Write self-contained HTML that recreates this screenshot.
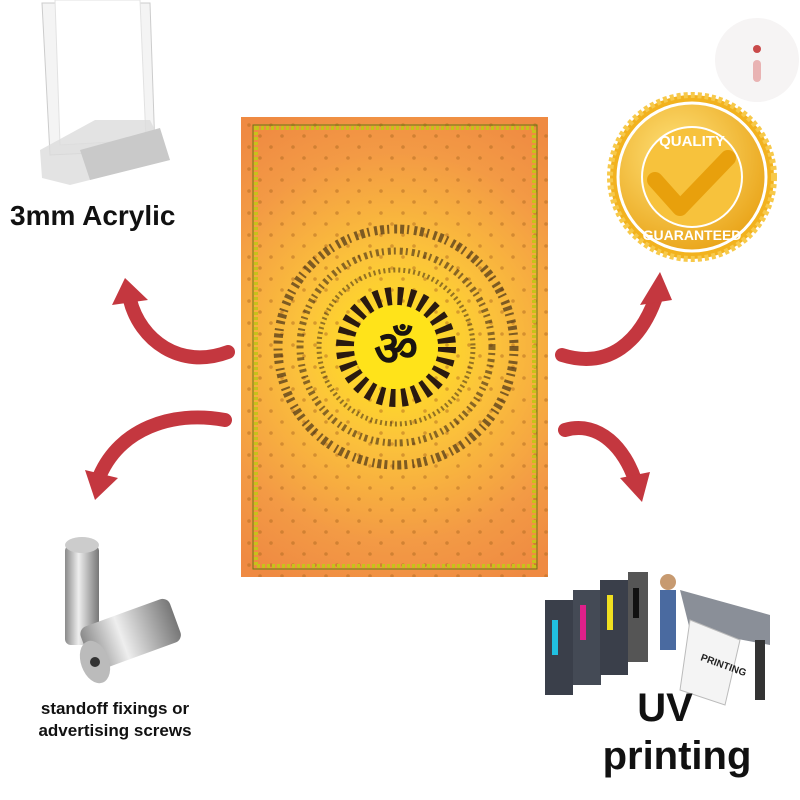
<!DOCTYPE html>
<html><head><meta charset="utf-8"><style>
html,body{margin:0;padding:0;background:#fff;width:800px;height:800px;overflow:hidden}
.t{position:absolute;font-family:"Liberation Sans",sans-serif;font-weight:bold;color:#111;text-align:center}
</style></head><body>
<svg width="800" height="800" viewBox="0 0 800 800" style="position:absolute;left:0;top:0">
<defs>
<radialGradient id="pg" cx="396" cy="347" r="260" gradientUnits="userSpaceOnUse">
<stop offset="0" stop-color="#ffe81a"/><stop offset="0.35" stop-color="#fcc53a"/><stop offset="0.75" stop-color="#f39a45"/><stop offset="1" stop-color="#ef8a42"/></radialGradient>
<radialGradient id="gold" cx="0.4" cy="0.35" r="0.7"><stop offset="0" stop-color="#ffe27a"/><stop offset="1" stop-color="#e9a317"/></radialGradient>
<linearGradient id="steel" x1="0" x2="1"><stop offset="0" stop-color="#8a8a8a"/><stop offset="0.4" stop-color="#eee"/><stop offset="1" stop-color="#777"/></linearGradient>
<pattern id="dots" x="241" y="117" width="22" height="22" patternUnits="userSpaceOnUse"><circle cx="8" cy="8" r="1.8" fill="#b06a20"/><circle cx="19" cy="19" r="1.8" fill="#b06a20"/></pattern>
</defs>
<circle cx="757" cy="60" r="42" fill="#f6f4f4"/>
<rect x="753" y="60" width="8" height="22" rx="4" fill="#e9b3b3"/><circle cx="757" cy="49" r="4" fill="#c94a4a"/>
<!-- acrylic stand -->
<polygon points="42,3 150,3 155,150 50,155" fill="#f4f4f4" stroke="#ccc"/>
<polygon points="55,0 140,0 146,140 60,145" fill="#fff" stroke="#e2e2e2"/>
<polygon points="40,150 95,120 150,120 170,160 70,185 42,178" fill="#dcdcdc" opacity="0.8"/>
<polygon points="80,150 160,128 170,160 90,180" fill="#c9c9c9"/>
<!-- poster -->
<rect x="241" y="117" width="307" height="460" fill="url(#pg)"/>
<rect x="241" y="117" width="307" height="460" fill="url(#dots)" opacity="0.5"/>
<rect x="256" y="128" width="278" height="438" fill="none" stroke="#c7c21a" stroke-width="4" stroke-dasharray="3 2"/>
<rect x="253" y="125" width="284" height="444" fill="none" stroke="#6a7a10" stroke-width="1"/>
<g fill="none" stroke="#2a1a10">
<circle cx="396" cy="347" r="118" stroke-width="9" stroke-dasharray="4 3 2 5 3 3" opacity="0.6"/>
<circle cx="396" cy="347" r="96" stroke-width="7" stroke-dasharray="3 3 2 4" opacity="0.55"/>
<circle cx="396" cy="347" r="77" stroke-width="5" stroke-dasharray="2 3 2 3" opacity="0.5"/>
<circle cx="396" cy="347" r="51" stroke-width="18" stroke-dasharray="5.5 6"/>
</g>
<circle cx="396" cy="347" r="42" fill="#ffe31a"/>
<text x="396" y="365" text-anchor="middle" font-family="Liberation Sans,sans-serif" font-weight="bold" font-size="48" fill="#1a1410">ॐ</text>
<!-- arrows -->
<g fill="none" stroke="#c4373f" stroke-width="14" stroke-linecap="round">
<path d="M228,352 C180,370 140,340 130,300"/>
<path d="M225,420 C170,410 120,430 100,475"/>
<path d="M562,355 C610,370 640,340 655,300"/>
<path d="M565,430 C600,420 625,450 635,480"/>
</g>
<g fill="#c4373f">
<polygon points="112,305 148,300 125,278"/>
<polygon points="85,470 118,478 95,500"/>
<polygon points="640,305 672,300 660,272"/>
<polygon points="620,478 650,472 642,502"/>
</g>
<!-- badge -->
<circle cx="692" cy="177" r="82" fill="#f2b21e" stroke="#f7c94a" stroke-width="6" stroke-dasharray="4 3"/>
<circle cx="692" cy="177" r="74" fill="url(#gold)" stroke="#fff" stroke-width="3"/>
<circle cx="692" cy="177" r="50" fill="#f7c23c" stroke="#fff" stroke-width="2"/>
<path d="M655,180 L680,208 L728,158" fill="none" stroke="#e8a00c" stroke-width="16" stroke-linecap="round" stroke-linejoin="round"/>
<text x="692" y="146" text-anchor="middle" font-family="Liberation Sans,sans-serif" font-weight="bold" font-size="15" fill="#fff">QUALITY</text>
<text x="692" y="240" text-anchor="middle" font-family="Liberation Sans,sans-serif" font-weight="bold" font-size="14" fill="#fff">GUARANTEED</text>
<!-- screws -->
<rect x="65" y="545" width="34" height="100" rx="6" fill="url(#steel)"/>
<ellipse cx="82" cy="545" rx="17" ry="8" fill="#ccc"/>
<g transform="rotate(-20 130 640)"><rect x="85" y="612" width="95" height="46" rx="8" fill="url(#steel)"/></g>
<ellipse cx="95" cy="662" rx="14" ry="22" fill="#bbb" transform="rotate(-20 95 662)"/>
<circle cx="95" cy="662" r="5" fill="#333"/>
<!-- printer -->
<g>
<rect x="545" y="600" width="28" height="95" fill="#3a3f4a"/><rect x="573" y="590" width="28" height="95" fill="#444a55"/>
<rect x="600" y="580" width="28" height="95" fill="#3a3f4a"/><rect x="628" y="572" width="20" height="90" fill="#555"/>
<rect x="552" y="620" width="6" height="35" fill="#20c0e0"/><rect x="580" y="605" width="6" height="35" fill="#e0208a"/><rect x="607" y="595" width="6" height="35" fill="#f0e020"/><rect x="633" y="588" width="6" height="30" fill="#111"/>
<polygon points="680,590 770,615 770,645 690,630" fill="#8a8f98"/>
<rect x="700" y="640" width="10" height="55" fill="#333"/><rect x="755" y="640" width="10" height="60" fill="#333"/>
<polygon points="690,620 740,640 725,705 680,690" fill="#f4f4f4" stroke="#bbb"/>
<text x="700" y="660" font-family="Liberation Sans,sans-serif" font-weight="bold" font-size="10" fill="#222" transform="rotate(20 700 660)">PRINTING</text>
<rect x="660" y="590" width="16" height="60" fill="#4a6aa0"/><circle cx="668" cy="582" r="8" fill="#c79a70"/>
</g>
</svg>
<div class="t" style="left:10px;top:200px;font-size:28px;text-align:left">3mm Acrylic</div>
<div class="t" style="left:15px;top:698px;width:200px;font-size:17px;line-height:22px">standoff fixings or<br>advertising screws</div>
<div class="t" style="left:597px;top:684px;width:160px;font-size:40px;line-height:48px"><span style="position:relative;left:-12px">UV</span><br>printing</div>
</body></html>
